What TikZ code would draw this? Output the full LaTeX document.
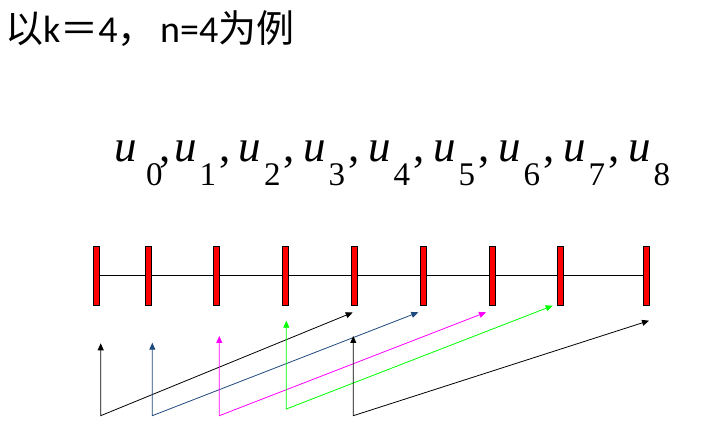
\documentclass[tikz,border=0pt]{standalone}
\usepackage{fontspec}
\setmainfont{Liberation Serif}
\newfontfamily\cjk{Noto Sans CJK SC}
\newfontfamily\lat{Carlito}
\usetikzlibrary{arrows.meta,backgrounds}
\definecolor{darkblue}{RGB}{31,73,125}
\definecolor{magen}{RGB}{255,0,255}
\definecolor{lgreen}{RGB}{0,255,0}
\newcommand\subfnt{\fontsize{33}{33}\selectfont\upshape}
\begin{document}
\begin{tikzpicture}[x=1pt,y=-1pt,
  bar/.style={draw=black, fill=red, line width=0.8pt, minimum width=6pt, minimum height=59pt, inner sep=0pt},
  conn/.style={line width=0.8pt, {Triangle[length=7pt,width=6pt]}-{Triangle[length=7pt,width=6pt]}},
  mathtxt/.style={anchor=base west, inner sep=0pt, font=\fontsize{45}{45}\selectfont\itshape}]
\useasboundingbox (0,0) rectangle (702,446);
% title
\node[anchor=base west, inner sep=0pt, font=\fontsize{38}{38}\selectfont\lat] (title) at (5,43)
  {{\cjk 以}k{\cjk ＝}4{\cjk ，}\hspace{4.5pt}n=4{\cjk 为例}};
% sequence
\node[mathtxt] (u0) at (114,162) {u\kern9.5pt\raisebox{-24pt}{\subfnt 0}\kern-3.5pt\upshape,\kern-6pt};
\foreach \i/\X in {1/174,2/238.5,3/303,4/368,5/433,6/498,7/563}{
  \node[mathtxt] (u\i) at (\X,162) {u\kern3pt\raisebox{-24pt}{\subfnt \i}\kern3pt\upshape,\kern-6pt};
}
\node[mathtxt] (u8) at (628,162) {u\kern3pt\raisebox{-24pt}{\subfnt 8}};
% bars
\foreach \i/\X in {0/96.3,1/148.3,2/216.7,3/285.3,4/354.3,5/423,6/492,7/560.3,8/646.3}{
  \node[bar] (b\i) at (\X,275.7) {};
}
\begin{scope}[on background layer]
  \draw[line width=0.8pt] (b0.center) -- (b8.center);
\end{scope}
% arrows
\coordinate (v1) at (100.7,343.3); \coordinate (c1) at (100.7,415.7); \coordinate (d1) at (352.7,312.5);
\coordinate (v2) at (152.3,342.7); \coordinate (c2) at (152.3,415.7); \coordinate (d2) at (418.3,312.3);
\coordinate (v3) at (219.3,336);   \coordinate (c3) at (219.3,415.7); \coordinate (d3) at (486,312.3);
\coordinate (v4) at (286.3,320.7); \coordinate (c4) at (286.3,409);   \coordinate (d4) at (552.7,305.7);
\coordinate (v5) at (353.3,336);   \coordinate (c5) at (353.3,415.7); \coordinate (d5) at (649,320.7);
\draw[conn, black] (v1) -- (c1) -- (d1);
\draw[conn, darkblue] (v2) -- (c2) -- (d2);
\draw[conn, magen] (v3) -- (c3) -- (d3);
\draw[conn, lgreen] (v4) -- (c4) -- (d4);
\draw[conn, black] (v5) -- (c5) -- (d5);
\end{tikzpicture}
\end{document}
